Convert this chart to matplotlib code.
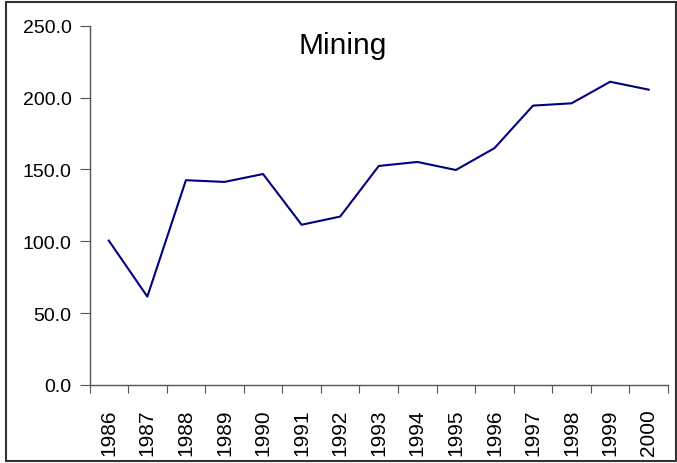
import matplotlib
matplotlib.use("Agg")
import matplotlib.pyplot as plt
from matplotlib.patches import Rectangle
import numpy as np

years = ["1986", "1987", "1988", "1989", "1990", "1991", "1992", "1993",
         "1994", "1995", "1996", "1997", "1998", "1999", "2000"]
values = [100.5, 61.5, 142.5, 141.3, 146.8, 111.5, 117.2, 152.4,
          155.2, 149.6, 164.8, 194.4, 196.0, 211.0, 205.5]
yticks = [0, 50, 100, 150, 200, 250]

W, H = 677, 464
fig = plt.figure(figsize=(W / 100, H / 100), dpi=100)
fig.patch.set_facecolor("white")
fig.patches.append(Rectangle((6 / W, 1 - 462 / H), (676 - 6) / W, (462 - 3) / H,
                             transform=fig.transFigure, fill=False,
                             edgecolor="#333333", linewidth=1.5))

ax = fig.add_axes([89.5 / W, 1 - 386 / H, (668 - 89.5) / W, (386 - 26.7) / H])
x = np.arange(len(years))
ax.plot(x, values, color="#000080", linewidth=1.5)

fam = ["Liberation Sans", "DejaVu Sans"]
ax.set_xlim(-0.5, len(years) - 0.5)
ax.set_ylim(0, 250)
ax.set_yticks(yticks)
ax.set_yticklabels([f"{v:.1f}" for v in yticks], fontsize=14, family=fam)
ax.set_xticks(np.arange(len(years) + 1) - 0.5)
ax.set_xticklabels([])
ax.set_xticks(x, minor=True)
ax.set_xticklabels(years, minor=True, rotation=90, fontsize=15, family=fam)
ax.tick_params(axis="x", which="major", length=6, direction="out", color="#555555")
ax.tick_params(axis="x", which="minor", length=0, pad=17)
ax.tick_params(axis="y", length=7, direction="out", color="#555555", pad=6)

for s in ["top", "right"]:
    ax.spines[s].set_visible(False)
for s in ["left", "bottom"]:
    ax.spines[s].set_color("#555555")
    ax.spines[s].set_linewidth(1.0)

fig.text(343 / W, 1 - 54 / H, "Mining", ha="center", va="baseline", fontsize=21.5,
         family=["Liberation Sans Narrow", "Liberation Sans", "DejaVu Sans"])

fig.savefig("out.png", dpi=100)
